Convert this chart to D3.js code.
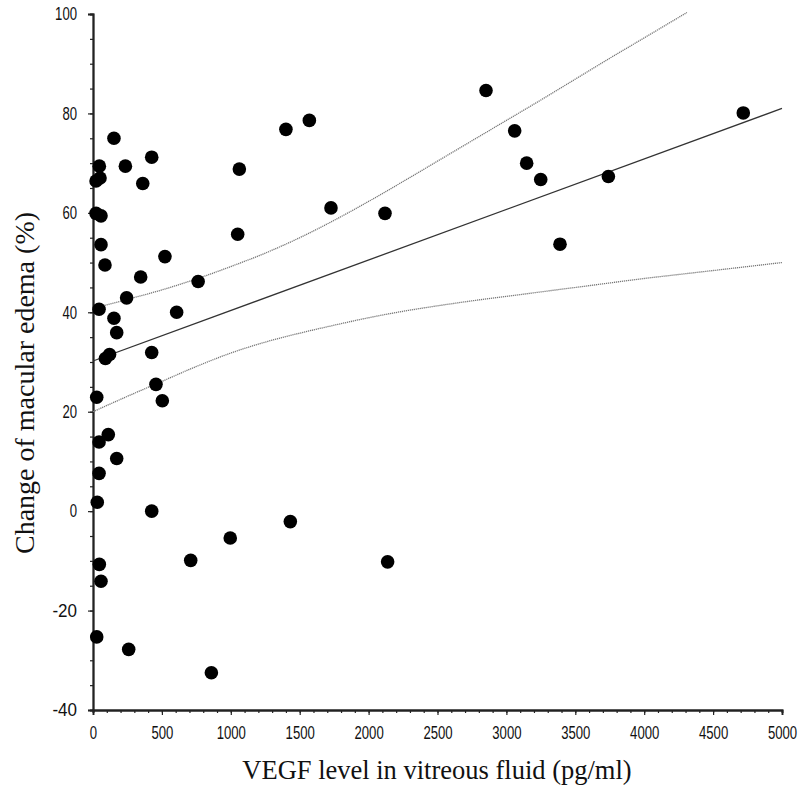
<!DOCTYPE html>
<html><head><meta charset="utf-8">
<script src="https://cdn.jsdelivr.net/npm/d3@7"></script>
<style>
body{margin:0;background:#fff;}
.tick text{font-family:"Liberation Sans","Arial",sans-serif;}
</style>
</head><body>
<svg id="chart" width="798" height="787"></svg>
<script>
// Data
const vegf = [152,426,46,235,22,51,361,22,58,58,522,87,346,763,244,44,152,172,607,90,120,426,27,457,503,111,44,172,44,31,426,46,58,709,27,259,1432,996,2138,859,1400,1570,1062,1727,2119,1050,2852,3060,3147,3249,3740,4719,3389];
const edemaChange = [75.0,71.2,69.4,69.4,66.4,67.0,65.9,59.9,59.4,53.6,51.2,49.5,47.1,46.2,42.9,40.6,38.8,35.9,40.0,30.7,31.5,31.9,22.9,25.5,22.2,15.4,13.9,10.6,7.6,1.8,0,-10.7,-14.1,-9.9,-25.3,-27.8,-2.1,-5.4,-10.2,-32.5,76.8,78.6,68.8,61.0,59.9,55.7,84.6,76.5,70.0,66.7,67.3,80.1,53.7];

const fitX = [0,5000];
const fitY = [30.2,81.0];

const upperX = [0,250,500,750,1000,1250,1500,1750,2000,2250,2500,2750,3000,3250,3500,3750,4000,4310];
const upperY = [40.8,42.6,44.5,46.7,49.2,51.9,55.0,58.5,62.3,66.3,70.4,74.5,78.6,82.7,86.9,91.1,95.2,100.3];

const lowerX = [0,250,500,750,1000,1250,1500,1750,2000,2250,2500,2750,3000,3250,3500,3750,4000,4250,4500,4750,5000];
const lowerY = [20.0,23.1,26.1,29.1,31.8,34.0,35.8,37.4,38.9,40.2,41.3,42.3,43.2,44.1,45.0,45.9,46.8,47.6,48.4,49.2,50.0];

const xMajor = [0,500,1000,1500,2000,2500,3000,3500,4000,4500,5000];
const yMajor = [-40,-20,0,20,40,60,80,100];

const xTitle = "VEGF level in vitreous fluid (pg/ml)";
const yTitle = "Change of macular edema (%)";

const svg = d3.select("#chart");
const x = d3.scaleLinear().domain([0,5000]).range([93,782]);
const y = d3.scaleLinear().domain([-40,100]).range([710,14]);

const axisColor = "#222";
const fmt = d => String(d);
const labelWidth = d => String(Math.abs(d)).length*7.3 + (d < 0 ? 10 : 0);

// minor ticks
const xMinor = d3.range(0,5001,100);
const yMinor = d3.range(-40,101,5);

const gxMinor = svg.append("g").attr("transform",`translate(0,${y(-40)})`)
  .call(d3.axisBottom(x).tickValues(xMinor).tickSize(3).tickFormat(""));
const gx = svg.append("g").attr("transform",`translate(0,${y(-40)})`)
  .call(d3.axisBottom(x).tickValues(xMajor).tickSize(5).tickPadding(11).tickFormat(fmt));
const gyMinor = svg.append("g").attr("transform",`translate(${x(0)},0)`)
  .call(d3.axisLeft(y).tickValues(yMinor).tickSize(3).tickFormat(""));
const gy = svg.append("g").attr("transform",`translate(${x(0)},0)`)
  .call(d3.axisLeft(y).tickValues(yMajor).tickSize(5).tickPadding(11).tickFormat(fmt));

[gxMinor,gx,gyMinor,gy].forEach(g=>{
  g.select(".domain").attr("stroke",axisColor).attr("stroke-width",1.8);
  g.selectAll(".tick line").attr("stroke",axisColor).attr("stroke-width",1.2);
  g.selectAll(".tick text").attr("fill","#111").style("font-size","18px")
    .attr("textLength",d=>labelWidth(d)).attr("lengthAdjust","spacingAndGlyphs");
});

// regression line
const line = d3.line().x(d=>x(d[0])).y(d=>y(d[1]));
svg.append("path").datum(d3.zip(fitX,fitY)).attr("d",line)
  .attr("fill","none").attr("stroke","#333").attr("stroke-width",1.3);

const curve = d3.line().x(d=>x(d[0])).y(d=>y(d[1])).curve(d3.curveMonotoneX);
svg.append("path").datum(d3.zip(upperX,upperY)).attr("d",curve)
  .attr("fill","none").attr("stroke","#777").attr("stroke-width",1.3).attr("stroke-dasharray","1.2,0.8");
svg.append("path").datum(d3.zip(lowerX,lowerY)).attr("d",curve)
  .attr("fill","none").attr("stroke","#777").attr("stroke-width",1.3).attr("stroke-dasharray","1.2,0.8");

// points
svg.append("g").selectAll("circle").data(d3.zip(vegf,edemaChange)).join("circle")
  .attr("cx",d=>x(d[0])).attr("cy",d=>y(d[1])).attr("r",6.8).attr("fill","#000");

// titles
svg.append("text").attr("x",437).attr("y",779).attr("text-anchor","middle")
  .style("font-family","'Liberation Serif','Times New Roman',serif").style("font-size","26.5px")
  .attr("fill","#111").text(xTitle);
svg.append("text").attr("transform","translate(34,383) rotate(-90)").attr("text-anchor","middle")
  .style("font-family","'Liberation Serif','Times New Roman',serif").style("font-size","28px")
  .attr("fill","#111").text(yTitle);
</script>
</body></html>
